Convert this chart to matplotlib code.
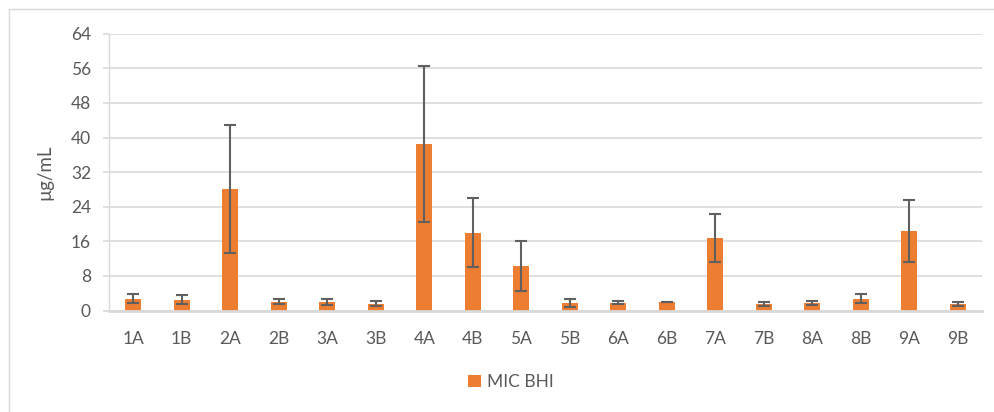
import matplotlib
matplotlib.use('Agg')
import matplotlib.pyplot as plt
import matplotlib.patches as patches

# Data
samples = ['1A', '1B', '2A', '2B', '3A', '3B', '4A', '4B', '5A',
           '5B', '6A', '6B', '7A', '7B', '8A', '8B', '9A', '9B']
mic_bhi = [2.7, 2.5, 28.0, 2.0, 2.0, 1.6, 38.5, 18.0, 10.3,
           1.7, 1.8, 1.9, 16.8, 1.5, 1.7, 2.7, 18.3, 1.55]
mic_err = [1.0, 1.0, 14.8, 0.6, 0.7, 0.5, 18.0, 8.0, 5.8,
           0.85, 0.35, 0.05, 5.6, 0.5, 0.4, 1.0, 7.2, 0.5]
y_ticks = [0, 8, 16, 24, 32, 40, 48, 56, 64]

plt.rcParams['font.family'] = ['Lato', 'DejaVu Sans']
text_color = '#595959'
grid_color = '#d9d9d9'

fig = plt.figure(figsize=(9.95, 4.12), dpi=100)
ax = fig.add_axes([109 / 995, 1 - 310.5 / 412, 873 / 995, (310.5 - 33.7) / 412])

x = list(range(len(samples)))
ax.bar(x, mic_bhi, width=0.32, color='#ED7D31', label='MIC BHI', zorder=3)
ax.errorbar(x, mic_bhi, yerr=mic_err, fmt='none', ecolor='#606060',
            elinewidth=1.5, capsize=4, capthick=1.5, zorder=4)

ax.set_xlim(-0.5, len(samples) - 0.5)
ax.set_ylim(0, 64)
ax.set_yticks(y_ticks)
ax.set_xticks(x)
ax.set_xticklabels(samples)

ax.grid(axis='y', color=grid_color, linewidth=1.2, zorder=0)
for side in ['top', 'right']:
    ax.spines[side].set_visible(False)
ax.spines['left'].set_color(grid_color)
ax.spines['left'].set_linewidth(1)
ax.spines['bottom'].set_color(grid_color)
ax.spines['bottom'].set_linewidth(2)
ax.spines['bottom'].set_zorder(5)

ax.tick_params(axis='y', colors=grid_color, labelcolor=text_color,
               length=4, width=1.2, pad=9, labelsize=12.5)
ax.tick_params(axis='x', length=0, pad=15, labelcolor=text_color,
               labelsize=12.5)

ax.set_ylabel('µg/mL', color=text_color, fontsize=13.5)
ax.yaxis.set_label_coords(-0.064, 0.5)

fig.legend(loc='center', bbox_to_anchor=(511 / 995, 1 - 382 / 412),
           frameon=False, fontsize=12.5, labelcolor=text_color,
           handlelength=0.75, handleheight=0.75, handletextpad=0.35)

# light frame of the chart area
frame = patches.Rectangle((8.5 / 995, -0.1), 1.2, 1 - 9 / 412 + 0.1,
                          transform=fig.transFigure, fill=False,
                          edgecolor=grid_color, linewidth=1)
fig.patches.append(frame)

plt.savefig('out.png', dpi=100)
plt.close()
